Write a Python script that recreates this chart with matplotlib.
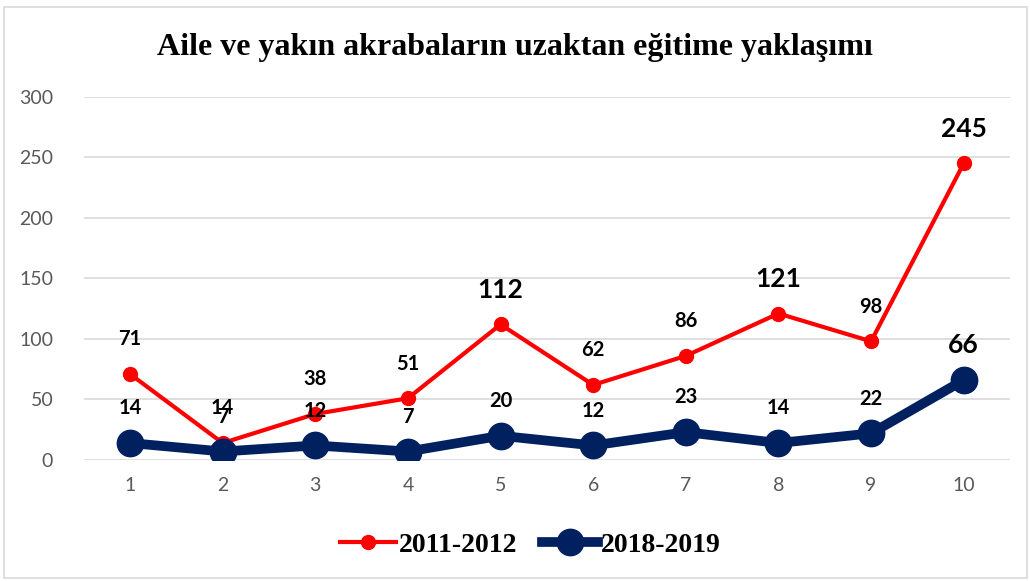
import matplotlib.pyplot as plt
from matplotlib.patches import Rectangle

plt.rcParams["font.family"] = ["Lato", "DejaVu Sans"]

# values per item, two survey periods
x = [1, 2, 3, 4, 5, 6, 7, 8, 9, 10]
y_2011 = [71, 14, 38, 51, 112, 62, 86, 121, 98, 245]
y_2018 = [14, 7, 12, 7, 20, 12, 23, 14, 22, 66]
big_2011 = [5, 8, 10]   # items whose labels are drawn larger
big_2018 = [10]

red = "#FF0000"
navy = "#002060"

fig = plt.figure(figsize=(10.3, 5.81), dpi=100)
ax = fig.add_axes([0.0813, 0.2083, 0.8993, 0.625])

ax.plot(x, y_2011, color=red, lw=3, marker="o", ms=10, label="2011-2012", zorder=3)
ax.plot(x, y_2018, color=navy, lw=7, marker="o", ms=19, label="2018-2019", zorder=4)

for xi, yi in zip(x, y_2011):
    fs = 19 if xi in big_2011 else 14.5
    ax.annotate(str(yi), (xi, yi), xytext=(0, 25), textcoords="offset points",
                ha="center", va="center", fontsize=fs, fontweight="bold",
                color="black", zorder=5)
for xi, yi in zip(x, y_2018):
    fs = 19 if xi in big_2018 else 14.5
    ax.annotate(str(yi), (xi, yi), xytext=(0, 25), textcoords="offset points",
                ha="center", va="center", fontsize=fs, fontweight="bold",
                color="black", zorder=5)

ax.set_xlim(0.5, 10.5)
ax.set_ylim(0, 300)
ax.set_xticks(x)
ax.set_yticks(range(0, 301, 50))
ax.grid(axis="y", color="#D9D9D9", lw=1.2)
ax.set_axisbelow(True)
for s in ax.spines.values():
    s.set_visible(False)
ax.tick_params(length=0, labelsize=14, labelcolor="#595959", pad=12)
ax.tick_params(axis="y", pad=22)

fig.text(0.5, 0.919, "Aile ve yakın akrabaların uzaktan eğitime yaklaşımı",
         ha="center", va="center", family="Liberation Serif",
         fontweight="bold", fontsize=23)

leg = fig.legend(loc="center", bbox_to_anchor=(0.515, 0.062), ncol=2, frameon=False,
                 prop={"family": "Liberation Serif", "weight": "bold", "size": 20},
                 handlelength=2.0, handletextpad=0.1, columnspacing=0.9)

# light border around the chart area
fig.patches.append(Rectangle((0.004, 0.005), 0.993, 0.983, transform=fig.transFigure,
                             fill=False, edgecolor="#D9D9D9", lw=1.2))

fig.savefig("out.png", dpi=100, facecolor="white")
